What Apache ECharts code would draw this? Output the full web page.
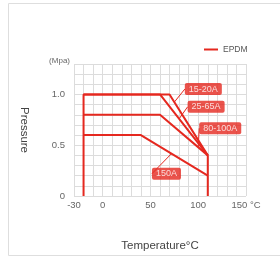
<!DOCTYPE html>
<html>
<head>
<meta charset="utf-8">
<script src="https://cdn.jsdelivr.net/npm/echarts@6/dist/echarts.min.js"></script>
<style>
  html, body { margin: 0; padding: 0; background: #fff; }
  #chart { width: 280px; height: 258px; }
</style>
</head>
<body>
<div id="chart"></div>
<script>
// pressure-temperature rating curves (°C, MPa)
const size15to20 = [[-20, 0], [-20, 1.0], [70, 1.0], [110, 0.4], [110, 0]];
const size25to65 = [[-20, 1.0], [60, 1.0], [110, 0.4]];
const size80to100 = [[-20, 0.8], [60, 0.8], [110, 0.4]];
const size150 = [[-20, 0.6], [40, 0.6], [110, 0.2]];

// callout tags: text, anchor on curve, label shift
const calloutNames = ['15-20A', '25-65A', '80-100A', '150A'];
const calloutAnchors = [[75, 0.925], [80, 0.76], [100, 0.48], [72, 0.417]];
const calloutShift = [[29, -13], [27, -12], [22, -19], [-5, 20]];

const xTickLabels = [-30, 0, 50, 100, 150];
const yTickLabels = { 0: '0', 0.5: '0.5', 1: '1.0' };

const RED = '#e5281f';

const chart = echarts.init(document.getElementById('chart'), null, { renderer: 'canvas' });

const curve = (data) => ({
  name: 'EPDM',
  type: 'line',
  data: data,
  symbol: 'none',
  lineStyle: { color: RED, width: 2 },
  itemStyle: { color: RED },
  z: 3
});

const option = {
  animation: false,
  backgroundColor: '#fff',
  textStyle: { fontFamily: 'Liberation Sans, Arial, sans-serif' },
  grid: { left: 74, top: 64, width: 172, height: 132 },
  legend: {
    data: ['EPDM'],
    left: 199,
    top: 40,
    icon: 'rect',
    itemWidth: 14,
    itemHeight: 2,
    itemGap: 4,
    textStyle: { fontSize: 8.5, color: '#555' }
  },
  xAxis: {
    type: 'value',
    min: -30,
    max: 150,
    interval: 10,
    name: 'Temperature°C',
    nameLocation: 'middle',
    nameGap: 44,
    nameTextStyle: { fontSize: 11.5, color: '#444' },
    axisLine: { show: false },
    axisTick: { show: false },
    axisLabel: {
      interval: 0,
      margin: 4,
      fontSize: 9.5,
      color: '#666',
      showMinLabel: true,
      showMaxLabel: true,
      formatter: (v) => {
        if (v === 150) return '150 {u|°C}';
        return xTickLabels.includes(v) ? String(v) : '';
      },
      rich: { u: { fontSize: 9.5, color: '#666' } }
    },
    splitLine: { lineStyle: { color: '#dcdcdc', width: 1 } }
  },
  yAxis: {
    type: 'value',
    min: 0,
    max: 1.3,
    interval: 0.1,
    name: 'Pressure',
    nameLocation: 'middle',
    nameRotate: -90,
    nameGap: 44,
    nameTextStyle: { fontSize: 11.5, color: '#444' },
    axisLine: { show: false },
    axisTick: { show: false },
    axisLabel: {
      interval: 0,
      margin: 9,
      fontSize: 9.5,
      color: '#666',
      formatter: (v) => {
        const key = Math.round(v * 10) / 10;
        return yTickLabels[key] !== undefined ? yTickLabels[key] : '';
      }
    },
    splitLine: { lineStyle: { color: '#dcdcdc', width: 1 } }
  },
  graphic: [
    {
      type: 'rect',
      shape: { x: 8.5, y: 3.5, width: 400, height: 252 },
      style: { fill: 'none', stroke: '#dedede', lineWidth: 1 },
      silent: true,
      z: -10
    },
    {
      type: 'text',
      right: 210,
      top: 57,
      style: { text: '(Mpa)', fontSize: 8, fill: '#666', fontFamily: 'Liberation Sans, Arial, sans-serif' }
    }
  ],
  series: [
    curve(size15to20),
    curve(size25to65),
    curve(size80to100),
    curve(size150),
    {
      name: 'callout',
      type: 'scatter',
      data: calloutAnchors.map((p, i) => ({ value: p, name: calloutNames[i] })),
      symbolSize: 0,
      silent: true,
      z: 5,
      label: {
        show: true,
        position: 'inside',
        formatter: '{b}',
        color: '#fff',
        fontSize: 9,
        backgroundColor: RED,
        borderRadius: 2,
        padding: [2, 4, 1, 4]
      },
      labelLine: { show: true, lineStyle: { color: RED, width: 1 } },
      labelLayout: (params) => ({
        dx: calloutShift[params.dataIndex][0],
        dy: calloutShift[params.dataIndex][1]
      })
    }
  ]
};

chart.setOption(option);
window.addEventListener('resize', () => chart.resize());
</script>
</body>
</html>
